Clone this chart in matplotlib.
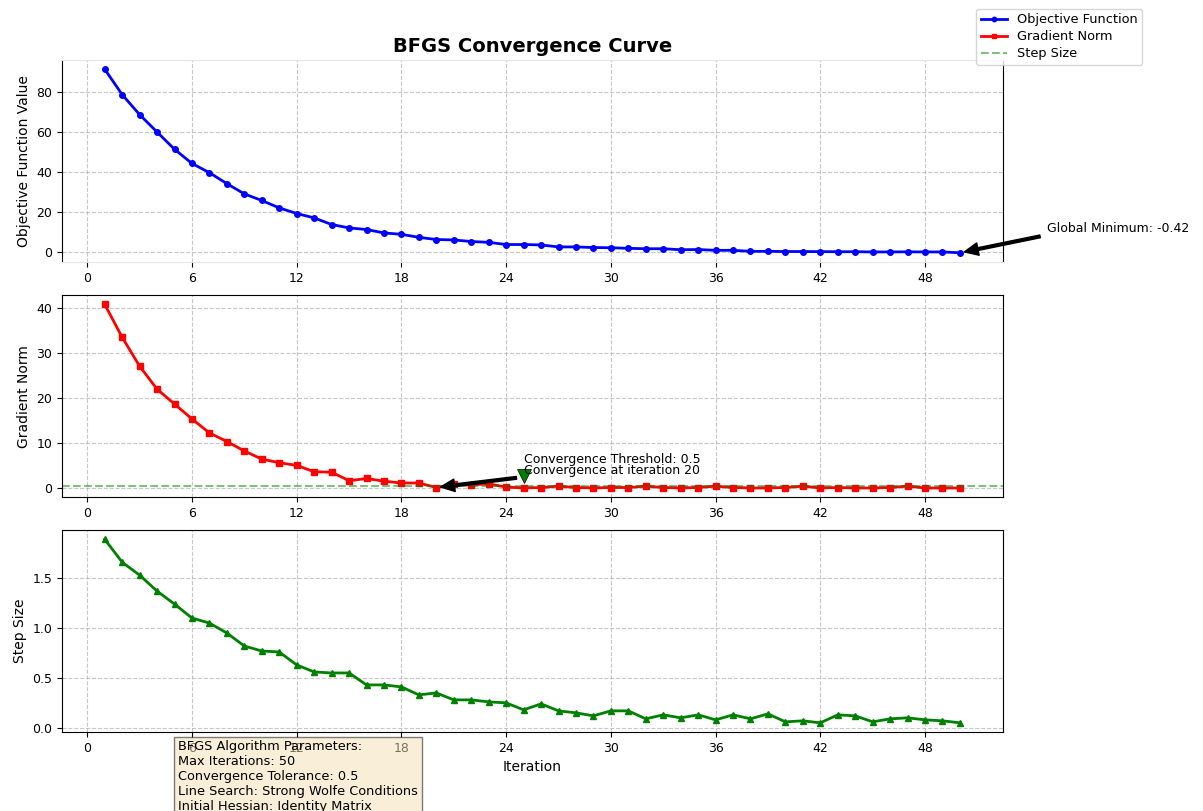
import numpy as np
import matplotlib
matplotlib.use("Agg")
import matplotlib.pyplot as plt

# iteration numbers and the three traces
iterations = np.arange(1, 51)

objective = [91.3, 78.6, 68.6, 59.9, 51.3, 44.2, 39.6, 34.1, 29.0, 25.7,
             22.0, 19.2, 17.0, 13.7, 12.0, 11.2, 9.5, 8.8, 7.3, 6.2,
             6.0, 5.2, 4.8, 3.7, 3.7, 3.5, 2.5, 2.5, 2.2, 2.1,
             1.8, 1.6, 1.6, 1.1, 1.2, 0.8, 0.8, 0.3, 0.3, 0.2,
             0.2, 0.15, 0.1, 0.1, 0.0, 0.0, 0.05, 0.0, 0.0, -0.42]

grad_norm = [40.8, 33.5, 27.1, 22.0, 18.7, 15.4, 12.3, 10.4, 8.3, 6.5,
             5.7, 5.1, 3.7, 3.6, 1.7, 2.2, 1.6, 1.2, 1.2, 0.2,
             0.9, 0.8, 1.0, 0.3, 0.1, 0.2, 0.5, 0.2, 0.1, 0.2,
             0.2, 0.5, 0.2, 0.1, 0.2, 0.5, 0.2, 0.1, 0.1, 0.2,
             0.5, 0.1, 0.2, 0.1, 0.1, 0.2, 0.5, 0.1, 0.1, 0.1]

step_size = [1.89, 1.66, 1.53, 1.37, 1.24, 1.10, 1.05, 0.95, 0.82, 0.77,
             0.76, 0.63, 0.56, 0.55, 0.55, 0.43, 0.43, 0.41, 0.33, 0.35,
             0.28, 0.28, 0.26, 0.25, 0.18, 0.24, 0.17, 0.15, 0.12, 0.17,
             0.17, 0.09, 0.13, 0.10, 0.13, 0.08, 0.13, 0.09, 0.14, 0.06,
             0.07, 0.05, 0.13, 0.12, 0.06, 0.09, 0.10, 0.08, 0.07, 0.05]

threshold = 0.5
conv_iter = 20
legend_labels = ["Objective Function", "Gradient Norm", "Step Size"]
x_ticks = np.arange(0, 49, 6)

params_text = ("BFGS Algorithm Parameters:\n"
               "Max Iterations: 50\n"
               "Convergence Tolerance: 0.5\n"
               "Line Search: Strong Wolfe Conditions\n"
               "Initial Hessian: Identity Matrix")

plt.rcParams['font.family'] = ['DejaVu Sans']
plt.rcParams['font.size'] = 9

fig = plt.figure(figsize=(12.03, 8.11), dpi=100)
ax1 = fig.add_axes([0.0515, 0.677, 0.782, 0.249])
ax2 = fig.add_axes([0.0515, 0.387, 0.782, 0.249])
ax3 = fig.add_axes([0.0515, 0.0974, 0.782, 0.249])

# objective function
l1, = ax1.plot(iterations, objective, color='blue', marker='o', markersize=4, linewidth=2)
ax1.set_ylabel("Objective Function Value", fontsize=10)
ax1.set_title("BFGS Convergence Curve", fontsize=14, fontweight='bold')
ax1.spines['top'].set_color('#e6e6e6')
ax1.spines['bottom'].set_color('#e6e6e6')
ax1.annotate(f"Global Minimum: {objective[-1]:.2f}", xy=(iterations[-1], objective[-1]),
             xytext=(55, 10), fontsize=9, annotation_clip=False,
             arrowprops=dict(facecolor='black', shrink=0.05, width=2, headwidth=9, headlength=10))

# gradient norm
l2, = ax2.plot(iterations, grad_norm, color='red', marker='s', markersize=4, linewidth=2)
l3 = ax2.axhline(threshold, color='green', linestyle='--', alpha=0.5, linewidth=1.5)
ax2.set_ylabel("Gradient Norm", fontsize=10)
ax2.plot(25, 2.7, marker='v', color='green', markersize=10, markeredgecolor='black', markeredgewidth=0.5)
ax2.annotate(f"Convergence at iteration {conv_iter}", xy=(conv_iter, grad_norm[conv_iter - 1]),
             xytext=(25, 3.2), fontsize=9,
             arrowprops=dict(facecolor='black', shrink=0.05, width=2, headwidth=9, headlength=10))
ax2.text(25, 5.6, f"Convergence Threshold: {threshold}", fontsize=9)

# step size
ax3.plot(iterations, step_size, color='green', marker='^', markersize=4, linewidth=2)
ax3.set_ylabel("Step Size", fontsize=10)
ax3.set_xlabel("Iteration", fontsize=10)

for ax in (ax1, ax2, ax3):
    ax.set_xticks(x_ticks)
    ax.grid(True, linestyle='--', alpha=0.7)
    ax.tick_params(labelsize=9)

fig.legend([l1, l2, l3], legend_labels, loc='upper right',
           bbox_to_anchor=(0.955, 0.997), fontsize=9.3, markerscale=0.8,
           labelspacing=0.3, borderpad=0.35, handlelength=2.0)

fig.text(0.148, 0.087, params_text, fontsize=9.3, va='top', ha='left',
         bbox=dict(boxstyle='square,pad=0.3', facecolor='wheat', alpha=0.5))

fig.savefig("out.png", dpi=100)
